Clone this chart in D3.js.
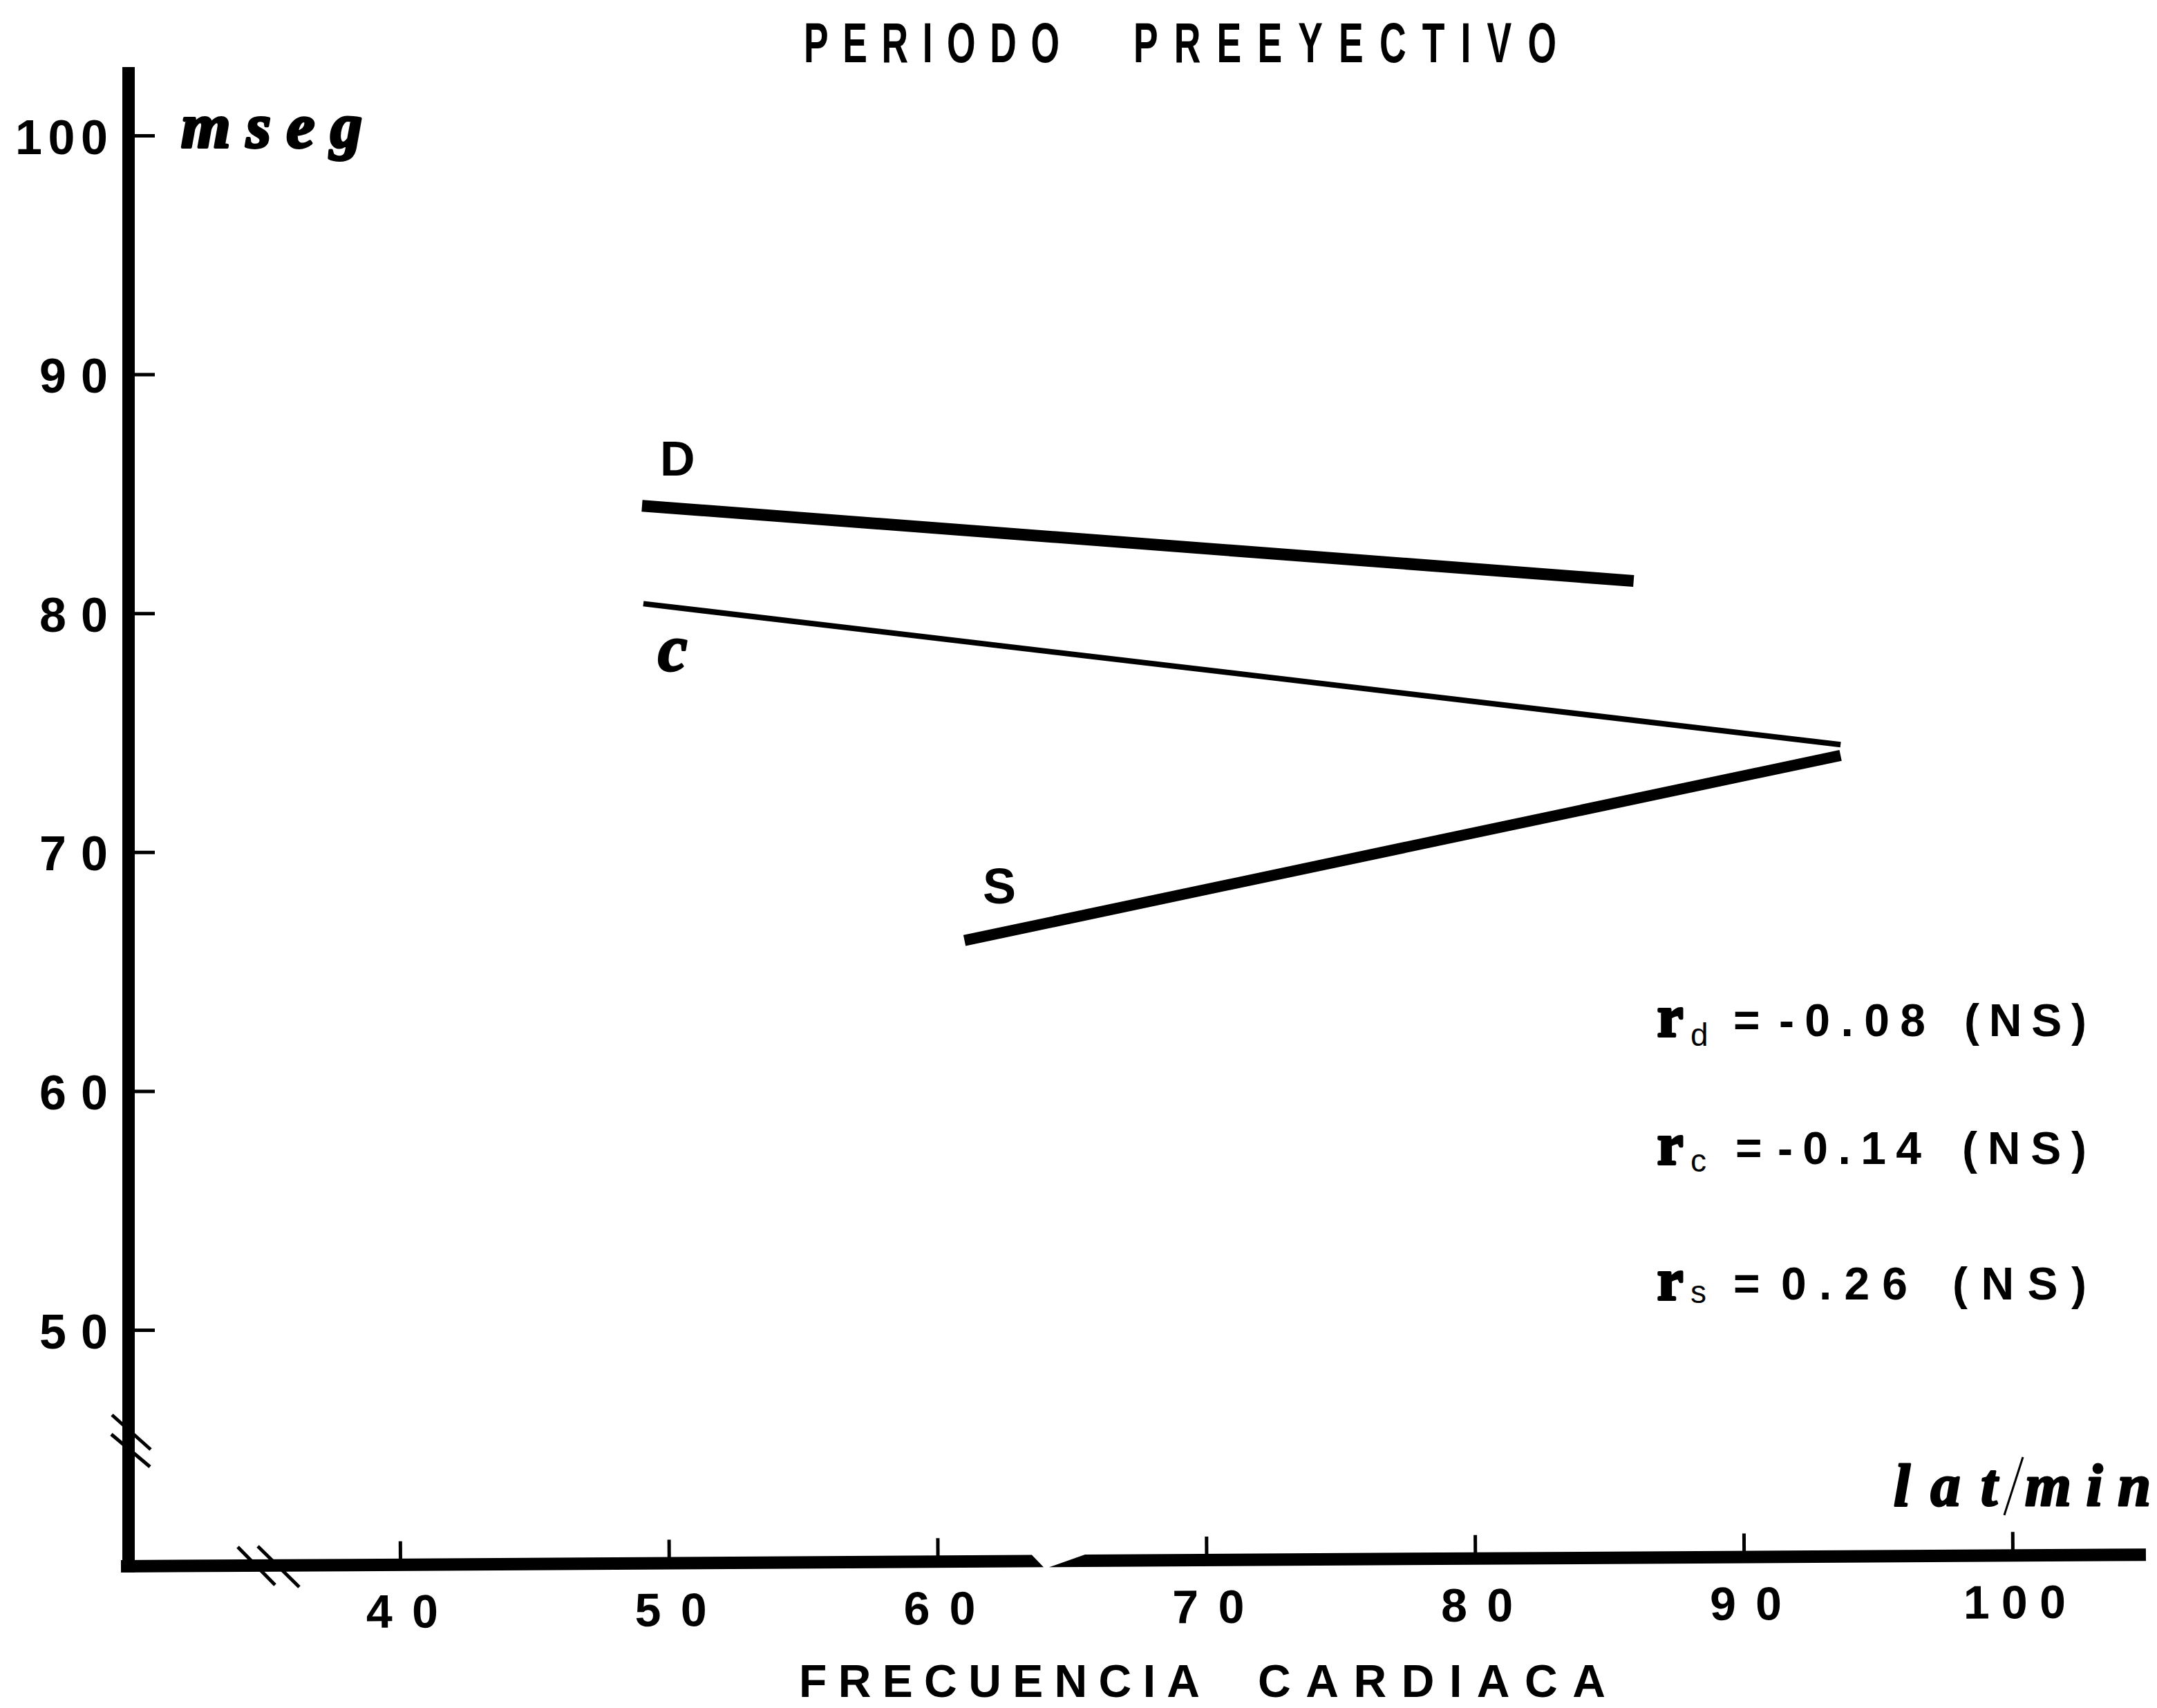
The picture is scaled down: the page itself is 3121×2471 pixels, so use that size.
<!DOCTYPE html>
<html><head><meta charset="utf-8">
<script src="https://cdn.jsdelivr.net/npm/d3@7"></script>
<style>html,body{margin:0;padding:0;background:#fff;} svg{display:block}</style>
</head><body>
<script>
// ---- data ----
const xTicks = [40, 50, 60, 70, 80, 90, 100];
const yTicks = [50, 60, 70, 80, 90, 100];
const seriesNames = ["D", "c", "S"];
const seriesD = [{x: 49.0, y: 84.5}, {x: 85.9, y: 81.35}];
const seriesC = [{x: 49.05, y: 80.4}, {x: 93.6, y: 74.5}];
const seriesS = [{x: 61.0, y: 66.3}, {x: 93.6, y: 74.05}];
const corrNames = ["d", "c", "s"];
const corrValues = ["-0.08", "-0.14", "0.26"];
const corrSig = ["(NS)", "(NS)", "(NS)"];
const titleWords = ["PERIODO", "PREEYECTIVO"];
const xTitleWords = ["FRECUENCIA", "CARDIACA"];
const yUnit = "mseg";
const xUnit = ["lat", "min"];

// ---- layout ----
const W = 3121, H = 2471;
const svg = d3.select("body").append("svg").attr("width", W).attr("height", H);
svg.append("rect").attr("width", W).attr("height", H).attr("fill", "#fff");

const x = d3.scaleLinear().domain([40, 100]).range([579, 2912]);
const y = d3.scaleLinear().domain([50, 100]).range([1924, 196]);

const SANS = "'Liberation Sans', Arial, Helvetica, sans-serif";
const SERIF = "'Liberation Serif', 'Times New Roman', serif";

const AXY = 2266, AXX = 186, TILT = -0.33;

// Y axis
svg.append("rect").attr("x", AXX - 9).attr("y", 97).attr("width", 18).attr("height", AXY + 9 - 97).attr("fill", "#000");
const gy = svg.append("g").attr("transform", `translate(${AXX},0)`)
  .call(d3.axisLeft(y).tickValues(yTicks).tickSizeInner(-38).tickSizeOuter(0).tickPadding(0));
gy.select(".domain").remove();
gy.selectAll(".tick line").attr("stroke", "#000").attr("stroke-width", 5);
gy.selectAll(".tick text")
  .attr("x", -30).attr("dy", null).attr("y", 26)
  .attr("text-anchor", "end")
  .attr("textLength", d => d === 100 ? 134 : 99).attr("lengthAdjust", "spacing")
  .style("font-family", SANS).style("font-size", "70px").style("font-weight", "bold")
  .attr("fill", "#000");

// X axis (slightly tilted as in the print)
const gxWrap = svg.append("g").attr("transform", `rotate(${TILT}, ${AXX}, ${AXY})`);
gxWrap.append("path")
  .attr("d", `M175,${AXY-9} L1493,${AXY-9} L1510,${AXY+9} L175,${AXY+9} Z M1518,${AXY+9} L1570,${AXY-9} L3105,${AXY-9} L3105,${AXY+9} Z`)
  .attr("fill", "#000");
const gx = gxWrap.append("g").attr("transform", `translate(0,${AXY})`)
  .call(d3.axisBottom(x).tickValues(xTicks).tickSizeInner(-34).tickSizeOuter(0).tickPadding(0));
gx.select(".domain").remove();
gx.selectAll(".tick line").attr("stroke", "#000").attr("stroke-width", 5);
gx.selectAll(".tick text")
  .attr("y", 91).attr("dy", null).attr("dx", 2)
  .attr("text-anchor", "middle")
  .attr("textLength", d => d === 100 ? 148 : 104).attr("lengthAdjust", "spacing")
  .style("font-family", SANS).style("font-size", "68px").style("font-weight", "bold")
  .attr("fill", "#000");

// break marks
const breaks = [
  [[344, 2238], [398, 2293]], [[373, 2237], [433, 2296]],
  [[162, 2047], [218, 2097]], [[161, 2075], [217, 2122]]
];
svg.selectAll("line.brk").data(breaks).enter().append("line").attr("class", "brk")
  .attr("x1", d => d[0][0]).attr("y1", d => d[0][1])
  .attr("x2", d => d[1][0]).attr("y2", d => d[1][1])
  .attr("stroke", "#000").attr("stroke-width", 5);

// regression lines
const line = d3.line().x(d => x(d.x)).y(d => y(d.y));
const series = [
  {name: seriesNames[0], data: seriesD, w: 17},
  {name: seriesNames[1], data: seriesC, w: 8},
  {name: seriesNames[2], data: seriesS, w: 16}
];
svg.selectAll("path.reg").data(series).enter().append("path").attr("class", "reg")
  .attr("d", d => line(d.data)).attr("fill", "none").attr("stroke", "#000")
  .attr("stroke-width", d => d.w).attr("stroke-linecap", "butt");

// heavy serif helper
function heavy(sel, sw) {
  return sel.style("font-family", SERIF).style("font-weight", "bold")
    .attr("stroke", "#000").attr("stroke-width", sw).attr("stroke-linejoin", "round").attr("fill", "#000");
}

// series labels
svg.append("text").attr("x", 955).attr("y", 688).text(seriesNames[0])
  .style("font-family", SANS).style("font-size", "70px").style("font-weight", "bold");
heavy(svg.append("text").attr("x", 952).attr("y", 970).text(seriesNames[1])
  .style("font-size", "96px").style("font-style", "italic"), 3);
svg.append("text").attr("x", 1422).attr("y", 1307).text(seriesNames[2])
  .style("font-family", SANS).style("font-size", "72px").style("font-weight", "bold");

// title
const tScale = 0.66;
const tg = svg.append("g").attr("transform", `scale(${tScale},1)`);
tg.append("text").attr("x", 1163 / tScale).attr("y", 90).text(titleWords[0])
  .attr("textLength", 370 / tScale).attr("lengthAdjust", "spacing")
  .style("font-family", SANS).style("font-size", "81px").style("font-weight", "bold");
tg.append("text").attr("x", 1640 / tScale).attr("y", 90).text(titleWords[1])
  .attr("textLength", 612 / tScale).attr("lengthAdjust", "spacing")
  .style("font-family", SANS).style("font-size", "81px").style("font-weight", "bold");

// x title
svg.append("text").attr("x", 1156).attr("y", 2455).text(xTitleWords[0])
  .attr("textLength", 580).attr("lengthAdjust", "spacing")
  .style("font-family", SANS).style("font-size", "66px").style("font-weight", "bold");
svg.append("text").attr("x", 1820).attr("y", 2455).text(xTitleWords[1])
  .attr("textLength", 503).attr("lengthAdjust", "spacing")
  .style("font-family", SANS).style("font-size", "66px").style("font-weight", "bold");

// units
heavy(svg.append("text").attr("x", 262).attr("y", 213).text(yUnit)
  .attr("textLength", 262).attr("lengthAdjust", "spacing")
  .style("font-size", "92px").style("font-style", "italic"), 4);
heavy(svg.append("text").attr("x", 2740).attr("y", 2178).text(xUnit[0])
  .attr("textLength", 150).attr("lengthAdjust", "spacing")
  .style("font-size", "86px").style("font-style", "italic"), 3);
svg.append("line").attr("x1", 2927).attr("y1", 2108).attr("x2", 2900).attr("y2", 2192)
  .attr("stroke", "#000").attr("stroke-width", 3);
heavy(svg.append("text").attr("x", 2930).attr("y", 2178).text(xUnit[1])
  .attr("textLength", 182).attr("lengthAdjust", "spacing")
  .style("font-size", "86px").style("font-style", "italic"), 3);

// correlation annotations
const corrRows = [
  {base: 1499, subBase: 1513, eqX: 2512, valX: 2577, valEnd: 2786, nsX: 2845},
  {base: 1684, subBase: 1695, eqX: 2515, valX: 2575, valEnd: 2780, nsX: 2842},
  {base: 1880, subBase: 1885, eqX: 2512, valX: 2580, valEnd: 2760, nsX: 2828}
];
corrRows.forEach((r, i) => {
  const g = svg.append("g");
  heavy(g.append("text").attr("x", 2398).attr("y", r.base).text("r")
    .style("font-size", "84px"), 4);
  g.append("text").attr("x", 2446).attr("y", r.subBase).text(corrNames[i])
    .style("font-family", SANS).style("font-size", "46px");
  g.append("text").attr("x", r.eqX - 4).attr("y", r.base).text("=")
    .style("font-family", SANS).style("font-size", "66px").style("font-weight", "bold");
  g.append("text").attr("x", r.valX - 3).attr("y", r.base).text(corrValues[i])
    .attr("textLength", r.valEnd - r.valX + 3).attr("lengthAdjust", "spacing")
    .style("font-family", SANS).style("font-size", "66px").style("font-weight", "bold");
  g.append("text").attr("x", r.nsX - 3).attr("y", r.base).text(corrSig[i])
    .attr("textLength", 3022 - r.nsX).attr("lengthAdjust", "spacing")
    .style("font-family", SANS).style("font-size", "66px").style("font-weight", "bold");
});
</script>
</body></html>
